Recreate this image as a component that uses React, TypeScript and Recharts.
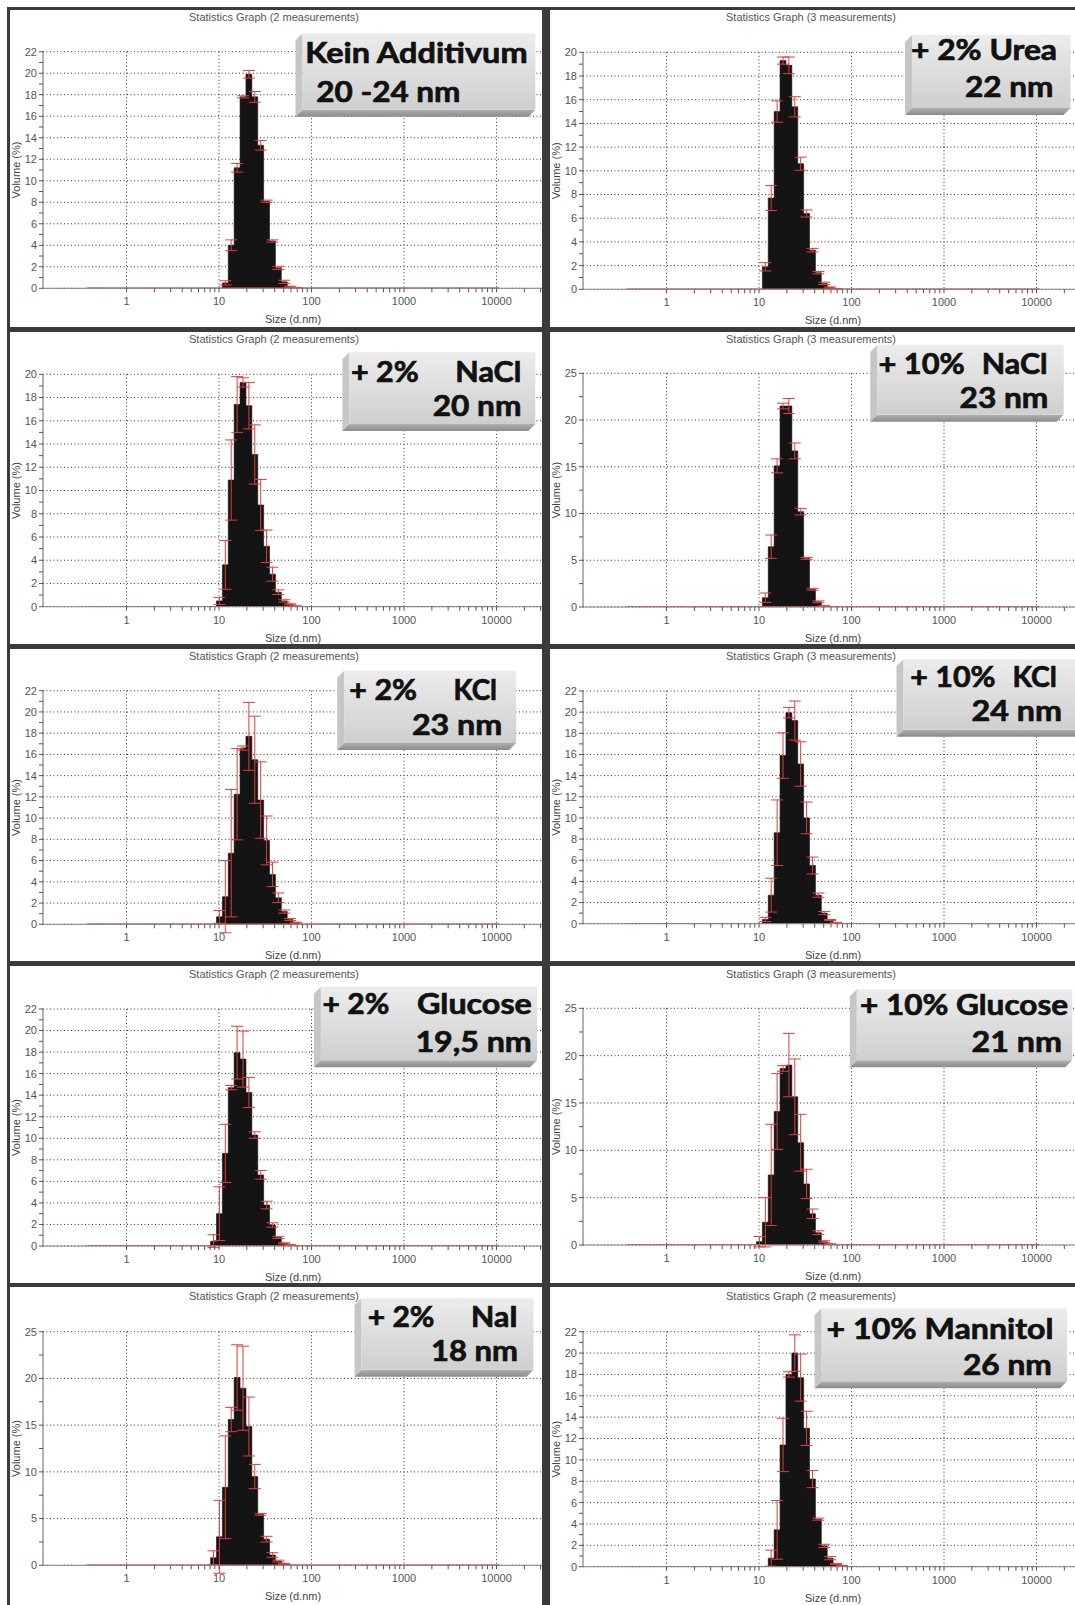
import React from "react";
import {
  ComposedChart,
  Area,
  Line,
  Scatter,
  ErrorBar,
  XAxis,
  YAxis,
  CartesianGrid,
} from "recharts";

// Malvern size classes (d.nm), 70 bins
const sizeClasses = [
  0.4, 0.4632, 0.5365, 0.6213, 0.7195, 0.8332, 0.9649, 1.117, 1.294, 1.499,
  1.736, 2.01, 2.328, 2.696, 3.122, 3.615, 4.187, 4.849, 5.615, 6.503, 7.531,
  8.721, 10.1, 11.7, 13.54, 15.69, 18.17, 21.04, 24.36, 28.21, 32.67, 37.84,
  43.82, 50.75, 58.77, 68.06, 78.82, 91.28, 105.7, 122.4, 141.8, 164.2, 190.1,
  220.2, 255.0, 295.3, 342.0, 396.1, 458.7, 531.2, 615.1, 712.4, 825.0, 955.4,
  1106, 1281, 1484, 1718, 1990, 2305, 2669, 3091, 3580, 4145, 4801, 5560, 6439,
  7456, 8635, 10000,
];

const sizeTicks = [1, 10, 100, 1000, 10000];

// volume (%) from the first non-empty size class on, and the error (+/-)
const keinStart = 11.7;
const keinVolume = [0.5, 4.0, 11.2, 17.8, 19.9, 17.8, 13.3, 8.1, 4.4, 1.9, 0.6, 0.15, 0.05];
const keinError = [0.2, 0.5, 0.4, 0.1, 0.35, 0.5, 0.45, 0.1, 0.1, 0.15, 0.15, 0.05, 0.02];

const ureaStart = 11.7;
const ureaVolume = [1.9, 7.7, 15.0, 19.3, 18.9, 15.4, 10.6, 6.4, 3.3, 1.4, 0.5, 0.15, 0.05];
const ureaError = [0.35, 1.05, 0.9, 0.3, 0.7, 0.85, 0.55, 0.3, 0.15, 0.1, 0.1, 0.05, 0.02];

const nacl2Start = 10.1;
const nacl2Volume = [0.5, 3.6, 10.9, 17.4, 19.3, 17.3, 13.1, 8.75, 5.2, 2.8, 1.25, 0.5, 0.2, 0.05];
const nacl2Error = [0.3, 2.1, 3.45, 2.4, 0.4, 2.0, 2.55, 2.2, 1.4, 0.6, 0.2, 0.1, 0.05, 0.02];

const nacl10Start = 11.7;
const nacl10Volume = [1.0, 6.45, 15.1, 21.5, 21.5, 16.7, 10.2, 5.2, 1.9, 0.55, 0.1];
const nacl10Error = [0.5, 1.25, 0.75, 0.3, 0.8, 0.85, 0.35, 0.1, 0.1, 0.1, 0.05];

const kcl2Start = 10.1;
const kcl2Volume = [0.7, 2.6, 6.7, 12.25, 16.6, 17.7, 15.5, 11.7, 7.9, 4.7, 2.5, 1.2, 0.45, 0.15];
const kcl2Error = [0.6, 3.4, 6.0, 4.3, 0.2, 3.2, 4.1, 3.6, 2.3, 1.15, 0.45, 0.15, 0.1, 0.05];

const kcl10Start = 11.7;
const kcl10Volume = [0.4, 2.7, 8.6, 15.9, 19.95, 19.2, 15.1, 10.0, 5.5, 2.7, 1.0, 0.35, 0.1];
const kcl10Error = [0.2, 1.6, 3.1, 2.15, 0.5, 1.85, 2.1, 1.5, 0.8, 0.2, 0.15, 0.05, 0.02];

const glucose2Start = 8.721;
const glucose2Volume = [0.45, 3.0, 8.6, 14.7, 17.95, 17.35, 14.25, 10.3, 6.6, 3.8, 1.95, 0.8, 0.25, 0.1];
const glucose2Error = [0.6, 2.5, 2.7, 0.2, 2.45, 2.6, 1.4, 0.3, 0.4, 0.35, 0.2, 0.1, 0.05, 0.02];

const glucose10Start = 10.1;
const glucose10Volume = [0.35, 2.4, 7.4, 14.1, 18.65, 19.0, 15.65, 10.8, 6.45, 3.3, 1.3, 0.35, 0.1];
const glucose10Error = [0.55, 2.6, 5.35, 4.0, 0.3, 3.35, 4.0, 3.0, 1.55, 0.5, 0.2, 0.1, 0.02];

const nai2Start = 8.721;
const nai2Volume = [0.8, 3.05, 8.35, 15.6, 20.1, 18.95, 14.85, 9.5, 5.45, 2.8, 1.1, 0.45, 0.15];
const nai2Error = [0.75, 3.9, 5.5, 1.3, 3.5, 4.5, 3.15, 1.3, 0.1, 0.3, 0.25, 0.1, 0.05];

const mannitolStart = 13.54;
const mannitolVolume = [0.8, 3.45, 11.4, 18.0, 20.0, 17.7, 12.95, 8.2, 4.45, 1.95, 0.8, 0.25, 0.1];
const mannitolError = [0.75, 2.75, 2.5, 0.25, 1.7, 2.2, 1.6, 0.8, 0.1, 0.15, 0.15, 0.05, 0.02];

const title2 = "Statistics Graph (2 measurements)";
const title3 = "Statistics Graph (3 measurements)";

type LabelText = [string, number, number, number];

type PanelCfg = {
  col: number;
  row: number;
  title: string;
  start: number;
  volume: number[];
  error: number[];
  yMax: number;
  plot: [number, number];
  box: [number, number, number, number];
  texts: LabelText[];
};

const panels: PanelCfg[] = [
  {
    col: 0, row: 0, title: title2, start: keinStart, volume: keinVolume, error: keinError, yMax: 22,
    plot: [41.7, 278.3], box: [285.5, 23.3, 525.3, 106.7],
    texts: [["Kein Additivum", 295.2, 53.3, 222.4], ["20 -24 nm", 306.3, 91.7, 144.2]],
  },
  {
    col: 1, row: 0, title: title3, start: ureaStart, volume: ureaVolume, error: ureaError, yMax: 20,
    plot: [42.3, 279.3], box: [355, 25, 520.5, 105],
    texts: [["+ 2% Urea", 361, 50, 146], ["22 nm", 415, 87, 88.5]],
  },
  {
    col: 0, row: 1, title: title2, start: nacl2Start, volume: nacl2Volume, error: nacl2Error, yMax: 20,
    plot: [42.3, 274.7], box: [332.4, 20.3, 525.3, 99],
    texts: [["+ 2%", 341, 49.7, 67.8], ["NaCl", 445.3, 49.7, 66], ["20 nm", 422.7, 83.7, 88.7]],
  },
  {
    col: 1, row: 1, title: title3, start: nacl10Start, volume: nacl10Volume, error: nacl10Error, yMax: 25,
    plot: [41.3, 275], box: [320.3, 13, 513.7, 89.7],
    texts: [["+ 10%", 328.4, 42.3, 86.4], ["NaCl", 431.8, 42.3, 65.9], ["23 nm", 409.6, 76.3, 88.8]],
  },
  {
    col: 0, row: 2, title: title2, start: kcl2Start, volume: kcl2Volume, error: kcl2Error, yMax: 22,
    plot: [41.7, 275.3], box: [327.2, 21.7, 506.2, 101],
    texts: [["+ 2%", 339.3, 51, 67.8], ["KCl", 443.6, 51, 43.4], ["23 nm", 401.9, 86, 90.4]],
  },
  {
    col: 1, row: 2, title: title3, start: kcl10Start, volume: kcl10Volume, error: kcl10Error, yMax: 22,
    plot: [42, 274.7], box: [346.5, 10.3, 535, 87.7],
    texts: [["+ 10%", 360.2, 37.7, 85.3], ["KCl", 462.5, 37.7, 44.4], ["24 nm", 421.6, 72, 90.4]],
  },
  {
    col: 0, row: 3, title: title2, start: glucose2Start, volume: glucose2Volume, error: glucose2Error, yMax: 22,
    plot: [43, 280], box: [303.9, 20.7, 527, 101.3],
    texts: [["+ 2%", 312.6, 48, 66.7], ["Glucose", 407, 48, 114.8], ["19,5 nm", 405.4, 85.7, 116.4]],
  },
  {
    col: 1, row: 3, title: title3, start: glucose10Start, volume: glucose10Volume, error: glucose10Error, yMax: 25,
    plot: [42.3, 279], box: [299.8, 23.3, 522.2, 101.3],
    texts: [["+ 10% Glucose", 310, 49, 208.1], ["21 nm", 421.6, 86.3, 90.4]],
  },
  {
    col: 0, row: 4, title: title2, start: nai2Start, volume: nai2Volume, error: nai2Error, yMax: 25,
    plot: [44.7, 278.3], box: [344.5, 11.3, 523.5, 89.7],
    texts: [["+ 2%", 357.7, 39.7, 66.8], ["NaI", 461, 39.7, 46.9], ["18 nm", 421, 74, 86.9]],
  },
  {
    col: 1, row: 4, title: title2, start: mannitolStart, volume: mannitolVolume, error: mannitolError, yMax: 22,
    plot: [44.7, 279.7], box: [264.6, 21.3, 517.1, 101.3],
    texts: [["+ 10% Mannitol", 276.6, 52.3, 226.9], ["26 nm", 413, 88, 88.8]],
  },
];

const colX = [10, 550];
const colW = [532, 525];
const rowY = [10, 332, 649, 966, 1287];
const rowH = [317, 312, 312, 317, 318];
const titleY = [7, 7, 7, 8, 9];
const titleX = [264, 261];

const xTicks: number[] = [];
for (let k = 0; k <= 4; k++) {
  for (let m = 1; m <= 9; m++) xTicks.push(m * Math.pow(10, k));
}
xTicks.push(100000);

function yTicksFor(max: number) {
  const step = max === 25 ? 2.5 : 1;
  const out: number[] = [];
  for (let v = 0; v <= max + 1e-9; v += step) out.push(v);
  return out;
}
function isMajor(v: number, max: number) {
  return max === 25 ? v % 5 === 0 : v % 2 === 0;
}

function buildSeries(start: number, volume: number[], error: number[]) {
  const first = sizeClasses.indexOf(start);
  const n = sizeClasses.length;
  const edges = sizeClasses.map((s, i) => {
    const prev = i > 0 ? sizeClasses[i - 1] : (s * s) / sizeClasses[1];
    return Math.sqrt(prev * s);
  });
  const lastEdge = Math.sqrt(
    (sizeClasses[n - 1] * sizeClasses[n - 1] * sizeClasses[n - 1]) / sizeClasses[n - 2]
  );
  const steps = sizeClasses.map((_, i) => ({
    x: edges[i],
    v: i >= first && i < first + volume.length ? volume[i - first] : 0,
    base: 0,
  }));
  steps.push({ x: lastEdge, v: 0, base: 0 });
  const bars = volume.map((v, k) => ({ x: sizeClasses[first + k], v, e: error[k] }));
  return { steps, bars };
}

const axisFont = "Liberation Sans, Arial, sans-serif";
const tickStyle = { fill: "#555", fontSize: 11, fontFamily: axisFont };

function LabelBox({ id, box, texts }: { id: string; box: PanelCfg["box"]; texts: LabelText[] }) {
  const [x0, y0, x1, y1] = box;
  const d = 7;
  return (
    <g>
      <defs>
        <linearGradient id={`face-${id}`} x1="0" y1="0" x2="0" y2="1">
          <stop offset="0%" stopColor="#ececec" />
          <stop offset="100%" stopColor="#cfcfcf" />
        </linearGradient>
        <linearGradient id={`bottom-${id}`} x1="0" y1="0" x2="0" y2="1">
          <stop offset="0%" stopColor="#b0b0b0" />
          <stop offset="100%" stopColor="#8a8a8a" />
        </linearGradient>
      </defs>
      <polygon
        points={`${x0},${y0 + d} ${x0 + d},${y0} ${x0 + d},${y1 - d} ${x0},${y1}`}
        fill="#c6c6c6"
      />
      <polygon
        points={`${x0},${y1} ${x0 + d},${y1 - d} ${x1},${y1 - d} ${x1 - d},${y1}`}
        fill={`url(#bottom-${id})`}
      />
      <rect x={x0 + d} y={y0} width={x1 - x0 - d} height={y1 - y0 - d} fill={`url(#face-${id})`} />
      {texts.map(([t, x, y, w]) => (
        <text
          key={t + x}
          x={x}
          y={y}
          fontFamily="Lato, 'Open Sans', sans-serif"
          fontWeight={700}
          fontSize={29}
          fill="#111"
          stroke="#111"
          strokeWidth={0.7}
          textLength={w}
          lengthAdjust="spacingAndGlyphs"
        >
          {t}
        </text>
      ))}
    </g>
  );
}

function Panel({ cfg, idx }: { cfg: PanelCfg; idx: number }) {
  const left = colX[cfg.col];
  const width = colW[cfg.col];
  const top = rowY[cfg.row];
  const height = rowH[cfg.row];
  const [plotTop, plotBottom] = cfg.plot;
  const { steps, bars } = buildSeries(cfg.start, cfg.volume, cfg.error);
  const yTicks = yTicksFor(cfg.yMax);
  const yMajor = yTicks.filter((v) => isMajor(v, cfg.yMax));

  return (
    <div
      style={{
        position: "absolute",
        left,
        top,
        width,
        height,
        background: "#fff",
        overflow: "hidden",
      }}
    >
      <div
        style={{
          position: "absolute",
          left: titleX[cfg.col] - 150,
          top: titleY[cfg.row] - 6,
          width: 300,
          textAlign: "center",
          fontSize: 11,
          lineHeight: "12px",
          color: "#555",
          fontFamily: axisFont,
        }}
      >
        {cfg.title}
      </div>
      <div style={{ position: "absolute", left: 0, top: 0 }}>
        <ComposedChart
          width={600}
          height={height}
          data={steps}
          margin={{ top: plotTop, right: 21, bottom: height - plotBottom - 30, left: 0 }}
        >
          <CartesianGrid
            stroke="#333"
            strokeDasharray="1 2.5"
            horizontalValues={yMajor}
            verticalValues={sizeTicks}
          />
          <XAxis
            dataKey="x"
            type="number"
            scale="log"
            domain={[0.125, 100000]}
            allowDataOverflow
            ticks={xTicks}
            interval={0}
            tickFormatter={(v: number) => (sizeTicks.includes(v) ? String(v) : "")}
            tick={tickStyle}
            tickSize={4}
            tickMargin={5}
            height={30}
            axisLine={{ stroke: "#888" }}
            tickLine={{ stroke: "#555" }}
            label={{
              value: "Size (d.nm)",
              position: "insideBottom",
              offset: -5,
              dx: -23,
              fill: "#444",
              fontSize: 11,
              fontFamily: axisFont,
            }}
          />
          <YAxis
            type="number"
            domain={[0, cfg.yMax]}
            allowDataOverflow
            ticks={yTicks}
            interval={0}
            width={33}
            tickFormatter={(v: number) => (isMajor(v, cfg.yMax) ? String(v) : "")}
            tick={tickStyle}
            tickSize={4}
            tickMargin={2}
            axisLine={{ stroke: "#666" }}
            tickLine={{ stroke: "#555" }}
            label={{
              value: "Volume (%)",
              angle: -90,
              position: "insideLeft",
              offset: 6,
              style: { textAnchor: "middle" },
              fill: "#444",
              fontSize: 11,
              fontFamily: axisFont,
            }}
          />
          <Line
            dataKey="base"
            stroke="#e0403c"
            strokeWidth={1.6}
            dot={false}
            activeDot={false}
            isAnimationActive={false}
          />
          <Area
            type="stepAfter"
            dataKey="v"
            stroke="#141414"
            strokeWidth={0.6}
            fill="#141414"
            fillOpacity={1}
            dot={false}
            activeDot={false}
            isAnimationActive={false}
          />
          <Scatter data={bars} dataKey="v" shape={() => <g />} isAnimationActive={false}>
            <ErrorBar dataKey="e" direction="y" width={6} stroke="#e23c3c" strokeWidth={1} />
          </Scatter>
        </ComposedChart>
      </div>
      <svg
        width={width}
        height={130}
        style={{ position: "absolute", left: 0, top: 0, pointerEvents: "none" }}
      >
        <LabelBox id={`p${idx}`} box={cfg.box} texts={cfg.texts} />
      </svg>
    </div>
  );
}

export default function App() {
  return (
    <div
      style={{
        position: "absolute",
        left: 0,
        top: 0,
        width: 1075,
        height: 1605,
        overflow: "hidden",
        background: "#fff",
      }}
    >
      <div
        style={{
          position: "absolute",
          left: 7,
          top: 7,
          width: 1068,
          height: 1598,
          background: "#3b3b3b",
        }}
      />
      {panels.map((p, i) => (
        <Panel key={i} cfg={p} idx={i} />
      ))}
    </div>
  );
}
